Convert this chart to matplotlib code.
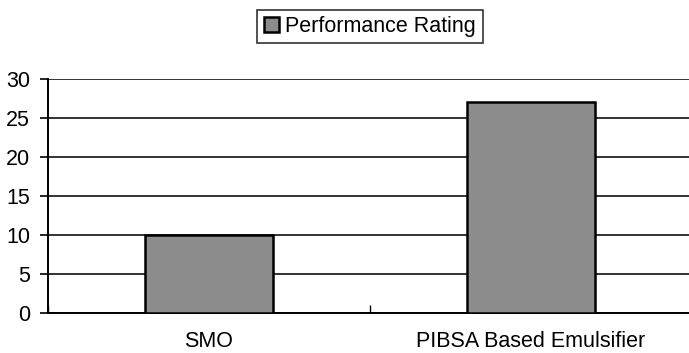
import matplotlib
matplotlib.use("Agg")
import matplotlib.pyplot as plt
import numpy as np

categories = ["SMO", "PIBSA Based Emulsifier"]
ratings = [10, 27]
series_name = "Performance Rating"
y_ticks = [0, 5, 10, 15, 20, 25, 30]

plt.rcParams["font.family"] = ["Liberation Sans", "DejaVu Sans"]

fig = plt.figure(figsize=(6.89, 3.53), dpi=100)
ax = fig.add_axes([48 / 689, 40 / 353, 644 / 689, 234 / 353])

x = np.arange(len(categories))
bars = ax.bar(x, ratings, width=0.4, color="#8c8c8c", edgecolor="black",
              linewidth=1.8, label=series_name, zorder=3)

ax.set_xlim(-0.5, len(categories) - 0.5)
ax.set_ylim(0, 30)
ax.set_yticks(y_ticks)
ax.set_xticks(x)
ax.set_xticklabels(categories)
ax.set_xticks(np.arange(len(categories) + 1) - 0.5, minor=True)

ax.yaxis.grid(True, color="#111111", linewidth=1.2, zorder=0)
ax.set_axisbelow(True)
for side in ["top", "right"]:
    ax.spines[side].set_visible(False)
ax.spines["left"].set_linewidth(1.4)
ax.spines["bottom"].set_linewidth(1.4)

ax.tick_params(axis="y", direction="out", length=6, width=1.2, pad=7,
               labelsize=15.5)
ax.tick_params(axis="x", which="major", length=0, pad=13, labelsize=15.5)
ax.tick_params(axis="x", which="minor", direction="in", length=6, width=1.0)

leg = fig.legend(handles=[bars], labels=[series_name], loc="center",
                 bbox_to_anchor=(370 / 689, 1 - 26.5 / 353), fontsize=15.5,
                 frameon=True, fancybox=False, edgecolor="black",
                 handlelength=0.7, handleheight=0.7, handletextpad=0.3,
                 borderpad=0.3, borderaxespad=0)
leg.get_frame().set_linewidth(1.2)

fig.savefig("out.png", dpi=100)
